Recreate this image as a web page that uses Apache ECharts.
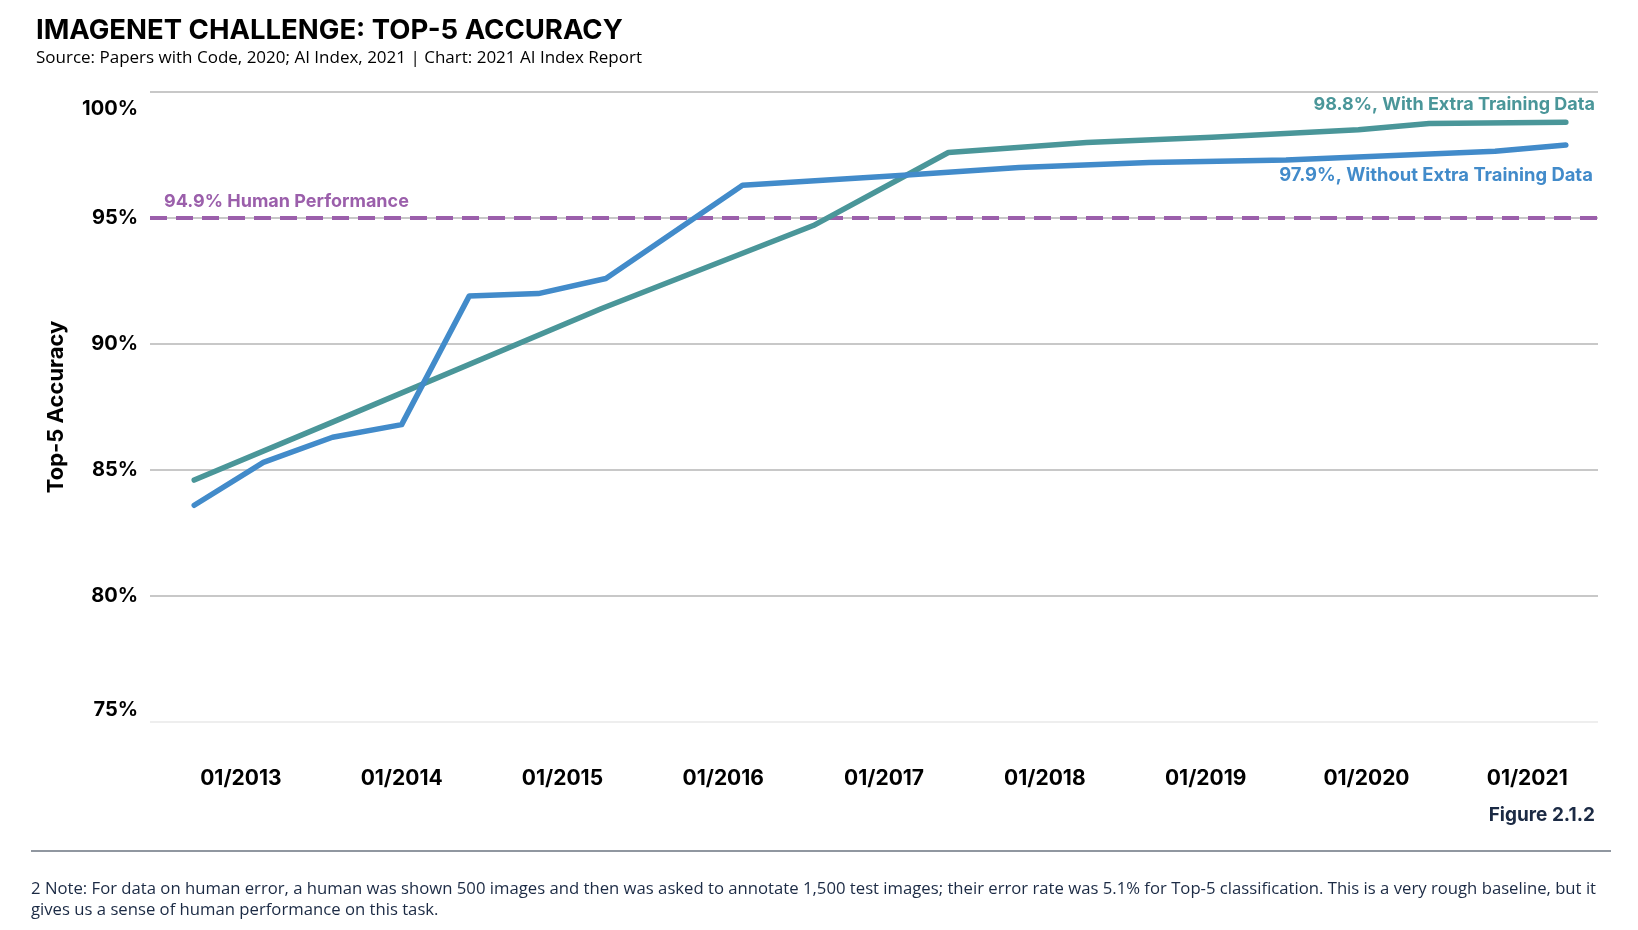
<!DOCTYPE html>
<html>
<head>
<meta charset="utf-8">
<script src="https://cdn.jsdelivr.net/npm/echarts@6/dist/echarts.min.js"></script>
<style>
html,body{margin:0;padding:0;background:#fff;}
#chart{width:1638px;height:930px;}
</style>
</head>
<body>
<div id="chart"></div>
<script>
// ---- data (x = decimal year, y = top-5 accuracy %) ----
const withoutExtraX = [2012.71, 2013.14, 2013.57, 2014.00, 2014.42, 2014.85, 2015.27, 2016.12, 2017.12, 2017.84, 2018.65, 2019.50, 2020.80, 2021.24];
const withoutExtraY = [83.6, 85.3, 86.3, 86.8, 91.9, 92.0, 92.6, 96.3, 96.7, 97.0, 97.2, 97.3, 97.65, 97.9];
const withExtraX = [2012.71, 2013.57, 2015.24, 2016.56, 2017.40, 2018.26, 2019.04, 2019.95, 2020.39, 2021.24];
const withExtraY = [84.6, 86.9, 91.4, 94.7, 97.6, 98.0, 98.2, 98.5, 98.75, 98.8];
const humanPerformance = 95;
const xTickYears = [2013, 2014, 2015, 2016, 2017, 2018, 2019, 2020, 2021];
const yTicks = [75, 80, 85, 90, 95, 100];
const labelWith = '98.8%, With Extra Training Data';
const labelWithout = '97.9%, Without Extra Training Data';
const labelHuman = '94.9% Human Performance';
const titleText = 'IMAGENET CHALLENGE: TOP-5 ACCURACY';
const subText = 'Source: Papers with Code, 2020; AI Index, 2021 | Chart: 2021 AI Index Report';
const figureText = 'Figure 2.1.2';
const noteLine1 = '2 Note: For data on human error, a human was shown 500 images and then was asked to annotate 1,500 test images; their error rate was 5.1% for Top-5 classification. This is a very rough baseline, but it';
const noteLine2 = 'gives us a sense of human performance on this task.';

const TEAL = '#4a9699';
const BLUE = '#428bca';
const PURPLE = '#9b5fab';
const FONT = 'Inter, Roboto, sans-serif';

const pairs = (xs, ys) => xs.map((x, i) => [x, ys[i]]);
const withoutData = pairs(withoutExtraX, withoutExtraY);
const withData = pairs(withExtraX, withExtraY);

const yLabelStyle = {fontFamily: FONT, fontWeight: 'bold', fontSize: 20, color: '#000'};

const chart = echarts.init(document.getElementById('chart'));
chart.setOption({
  backgroundColor: '#fff',
  animation: false,
  title: {
    text: titleText,
    subtext: subText,
    left: 31,
    top: 12,
    itemGap: 5,
    textStyle: {fontFamily: FONT, fontWeight: 'bold', fontSize: 27.5, color: '#000'},
    subtextStyle: {fontFamily: '"Open Sans", sans-serif', fontSize: 17, color: '#000'}
  },
  grid: {left: 150, right: 40, top: 92, bottom: 208},
  xAxis: {
    type: 'value',
    min: 2012.435,
    max: 2021.44,
    axisLine: {show: false},
    axisTick: {show: false},
    splitLine: {show: false},
    axisLabel: {
      customValues: xTickYears,
      formatter: v => '01/' + Math.round(v),
      margin: 46,
      fontFamily: FONT, fontWeight: 'bold', fontSize: 21, color: '#000'
    }
  },
  yAxis: {
    type: 'value',
    min: yTicks[0],
    max: yTicks[yTicks.length - 1],
    interval: 5,
    name: 'Top-5 Accuracy',
    nameLocation: 'middle',
    nameGap: 83,
    nameTextStyle: {fontFamily: FONT, fontWeight: 'bold', fontSize: 22, color: '#000'},
    axisLine: {show: false},
    axisTick: {show: false},
    axisLabel: {
      formatter: v => v === 100 ? '{max|100%}' : (v === 75 ? '{min|75%}' : v + '%'),
      margin: 12,
      verticalAlignMaxLabel: 'top',
      verticalAlignMinLabel: 'bottom',
      fontFamily: FONT, fontWeight: 'bold', fontSize: 20, color: '#000',
      rich: {
        max: Object.assign({lineHeight: 34}, yLabelStyle),
        min: Object.assign({lineHeight: 24}, yLabelStyle)
      }
    },
    splitLine: {lineStyle: {color: ['#eeeeee', '#c8c8c8', '#c8c8c8', '#c8c8c8', '#c8c8c8', '#c8c8c8'], width: 2}}
  },
  series: [
    {
      name: 'With Extra Training Data',
      type: 'line',
      data: withData,
      symbol: 'none',
      z: 3,
      lineStyle: {color: TEAL, width: 5.5, cap: 'round', join: 'round'},
      markLine: {
        silent: true,
        symbol: 'none',
        z: 1,
        lineStyle: {color: PURPLE, width: 4, type: [17, 9]},
        label: {
          show: true,
          position: 'insideStartTop',
          formatter: labelHuman,
          fontFamily: FONT, fontWeight: 'bold', fontSize: 18, color: PURPLE,
          distance: [14, 7]
        },
        data: [{yAxis: humanPerformance}]
      },
      markPoint: {
        silent: true,
        symbol: 'circle',
        symbolSize: 0,
        label: {
          show: true, position: 'inside', align: 'right', verticalAlign: 'middle',
          offset: [29, -18],
          formatter: labelWith,
          fontFamily: FONT, fontWeight: 'bold', fontSize: 18, color: TEAL
        },
        data: [{coord: withData[withData.length - 1]}]
      }
    },
    {
      name: 'Without Extra Training Data',
      type: 'line',
      data: withoutData,
      symbol: 'none',
      z: 4,
      lineStyle: {color: BLUE, width: 5.5, cap: 'round', join: 'round'},
      markPoint: {
        silent: true,
        symbol: 'circle',
        symbolSize: 0,
        label: {
          show: true, position: 'inside', align: 'right', verticalAlign: 'middle',
          offset: [27, 31],
          formatter: labelWithout,
          fontFamily: FONT, fontWeight: 'bold', fontSize: 18.4, color: BLUE
        },
        data: [{coord: withoutData[withoutData.length - 1]}]
      }
    }
  ],
  graphic: [
    {type: 'text', right: 43, top: 806, style: {text: figureText, font: 'bold 19px ' + FONT, fill: '#1b2a44'}},
    {type: 'line', shape: {x1: 31, y1: 851, x2: 1611, y2: 851}, style: {stroke: '#6b7580', lineWidth: 1.5}},
    {type: 'text', left: 31, top: 881, style: {text: noteLine1, font: '16.7px "Open Sans", sans-serif', fill: '#1b2a44'}},
    {type: 'text', left: 31, top: 902, style: {text: noteLine2, font: '16.7px "Open Sans", sans-serif', fill: '#1b2a44'}}
  ]
});
</script>
</body>
</html>
